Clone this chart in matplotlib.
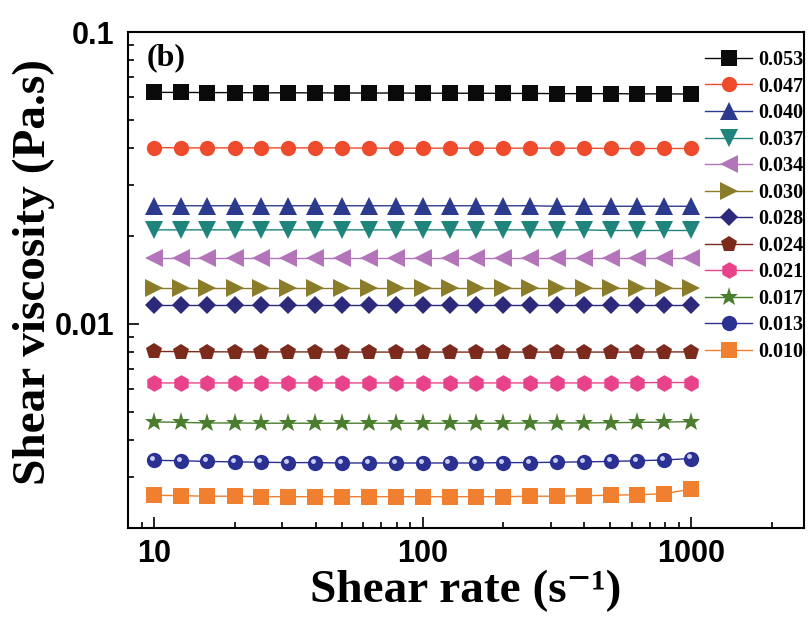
import matplotlib
matplotlib.use("Agg")
import matplotlib.pyplot as plt
from matplotlib.ticker import FixedLocator, FixedFormatter, LogLocator, NullFormatter
from matplotlib.transforms import offset_copy

# shear rate (1/s)
shear_rate = [10, 12.6, 15.8, 20, 25.1, 31.6, 39.8, 50.1, 63.1, 79.4, 100,
              126, 158, 200, 251, 316, 398, 501, 631, 794, 1000]

labels = ["0.053", "0.047", "0.040", "0.037", "0.034", "0.030",
          "0.028", "0.024", "0.021", "0.017", "0.013", "0.010"]

v_053 = [0.0621, 0.0621, 0.0620, 0.0620, 0.0619, 0.0619, 0.0619, 0.0618, 0.0618, 0.0618, 0.0617,
         0.0617, 0.0617, 0.0616, 0.0616, 0.0615, 0.0615, 0.0615, 0.0614, 0.0614, 0.0613]
v_047 = [0.0402, 0.0401, 0.0401, 0.0401, 0.0401, 0.0401, 0.0401, 0.0401, 0.0400, 0.0400, 0.0400,
         0.0400, 0.0400, 0.0400, 0.0400, 0.0400, 0.0400, 0.0399, 0.0399, 0.0399, 0.0399]
v_040 = [0.0254, 0.0254, 0.0254, 0.0254, 0.0254, 0.0254, 0.0254, 0.0254, 0.0254, 0.0254, 0.0254,
         0.0254, 0.0254, 0.0254, 0.0254, 0.0253, 0.0253, 0.0253, 0.0253, 0.0253, 0.0253]
v_037 = [0.0210, 0.0210, 0.0210, 0.0210, 0.0210, 0.0210, 0.0210, 0.0210, 0.0210, 0.0210, 0.0210,
         0.0210, 0.0210, 0.0210, 0.0210, 0.0210, 0.0210, 0.0209, 0.0209, 0.0209, 0.0209]
v_034 = [0.0168, 0.0168, 0.0168, 0.0168, 0.0168, 0.0168, 0.0168, 0.0168, 0.0168, 0.0168, 0.0168,
         0.0168, 0.0168, 0.0168, 0.0168, 0.0168, 0.0168, 0.0168, 0.0168, 0.0168, 0.0168]
v_030 = [0.0133, 0.0133, 0.0133, 0.0133, 0.0133, 0.0133, 0.0133, 0.0133, 0.0133, 0.0133, 0.0133,
         0.0133, 0.0133, 0.0133, 0.0133, 0.0133, 0.0133, 0.0133, 0.0133, 0.0133, 0.0133]
v_028 = [0.0116, 0.0116, 0.0116, 0.0116, 0.0116, 0.0116, 0.0116, 0.0116, 0.0116, 0.0116, 0.0116,
         0.0116, 0.0116, 0.0116, 0.0116, 0.0116, 0.0116, 0.0116, 0.0116, 0.0116, 0.0116]
v_024 = [0.00805, 0.00804, 0.00803, 0.00802, 0.00802, 0.00802, 0.00802, 0.00801, 0.00801, 0.00801, 0.00801,
         0.00801, 0.00801, 0.00801, 0.00801, 0.00801, 0.00801, 0.00801, 0.00801, 0.00802, 0.00802]
v_021 = [0.00628, 0.00628, 0.00628, 0.00628, 0.00628, 0.00628, 0.00628, 0.00628, 0.00628, 0.00628, 0.00628,
         0.00628, 0.00628, 0.00628, 0.00628, 0.00628, 0.00628, 0.00628, 0.00629, 0.00630, 0.00630]
v_017 = [0.00462, 0.00460, 0.00458, 0.00458, 0.00457, 0.00457, 0.00457, 0.00457, 0.00457, 0.00457, 0.00457,
         0.00457, 0.00457, 0.00457, 0.00458, 0.00458, 0.00458, 0.00459, 0.00460, 0.00461, 0.00463]
v_013 = [0.00341, 0.00340, 0.00338, 0.00337, 0.00336, 0.00335, 0.00335, 0.00334, 0.00334, 0.00334, 0.00334,
         0.00334, 0.00334, 0.00335, 0.00335, 0.00336, 0.00337, 0.00338, 0.00340, 0.00342, 0.00346]
v_010 = [0.00259, 0.00258, 0.00257, 0.00257, 0.00256, 0.00256, 0.00256, 0.00256, 0.00256, 0.00256, 0.00256,
         0.00256, 0.00256, 0.00256, 0.00257, 0.00257, 0.00258, 0.00259, 0.00260, 0.00262, 0.00272]

series = [v_053, v_047, v_040, v_037, v_034, v_030, v_028, v_024, v_021, v_017, v_013, v_010]
colors = ["#0a0a0a", "#ee4a2c", "#2c3a8e", "#1f857c", "#b374ba", "#8a7c28",
          "#2d2a7c", "#7c2a1c", "#e8428a", "#4a7d2e", "#2b3192", "#f07f30"]
markers = ["s", "o", "^", "v", "<", ">", "D", "p", "h", "*", "o", "s"]
msizes = [11, 11, 13, 13, 13, 13, 9.5, 12, 12, 14, 11, 11]

serif = ["Liberation Serif", "DejaVu Serif"]

fig = plt.figure(figsize=(8.11, 6.19), dpi=100)
ax = fig.add_axes([128 / 811, 91 / 619, 676 / 811, 496 / 619])

for y, c, m, ms, lab in zip(series, colors, markers, msizes, labels):
    ax.plot(shear_rate, y, color=c, marker=m, markersize=ms, lw=1.0,
            markeredgewidth=0, label=lab)

# highlight on the "sphere" markers
hl = offset_copy(ax.transData, fig=fig, x=-1.5, y=1.5, units="points")
ax.plot(shear_rate, v_013, ls="none", marker="o", markersize=3.5,
        color="#c9cdf2", markeredgewidth=0, transform=hl)

ax.set_xscale("log")
ax.set_yscale("log")
ax.set_xlim(8, 2630)
ax.set_ylim(0.002, 0.1)

ax.xaxis.set_major_locator(FixedLocator([10, 100, 1000]))
ax.xaxis.set_major_formatter(FixedFormatter(["10", "100", "1000"]))
ax.xaxis.set_minor_locator(LogLocator(base=10, subs=range(2, 10)))
ax.xaxis.set_minor_formatter(NullFormatter())
ax.yaxis.set_major_locator(FixedLocator([0.01, 0.1]))
ax.yaxis.set_major_formatter(FixedFormatter(["0.01", "0.1"]))
ax.yaxis.set_minor_locator(LogLocator(base=10, subs=range(2, 10)))
ax.yaxis.set_minor_formatter(NullFormatter())

ax.tick_params(which="both", direction="in", top=False, right=False, width=1.2)
ax.tick_params(which="major", length=8, labelsize=22)
ax.tick_params(axis="x", which="major", pad=8)
ax.tick_params(axis="y", which="major", pad=10)
ax.tick_params(which="minor", length=4)
for t in ax.get_xticklabels() + ax.get_yticklabels():
    t.set_fontfamily("Liberation Sans")
    t.set_fontweight("bold")
for s in ax.spines.values():
    s.set_linewidth(1.5)

ax.set_xlabel("Shear rate (s\u207b\u00b9)", fontsize=34, fontweight="bold", fontfamily=serif)
ax.xaxis.set_label_coords(0.5, -0.084)
ax.set_ylabel("Shear viscosity (Pa.s)", fontsize=34, fontweight="bold", fontfamily=serif)
ax.yaxis.set_label_coords(-0.108, 0.516)

ax.text(0.027, 0.977, "(b)", transform=ax.transAxes, fontsize=23, fontweight="bold",
        fontfamily=serif, va="top", ha="left")

leg = ax.legend(loc="upper left", bbox_to_anchor=(705 / 811, 1 - 50 / 619),
                bbox_transform=fig.transFigure, frameon=False, borderpad=0,
                borderaxespad=0, handlelength=2.35, handletextpad=0.3,
                labelspacing=0.325, prop={"family": serif, "weight": "bold", "size": 14.5})

plt.savefig("out.png", dpi=100)
